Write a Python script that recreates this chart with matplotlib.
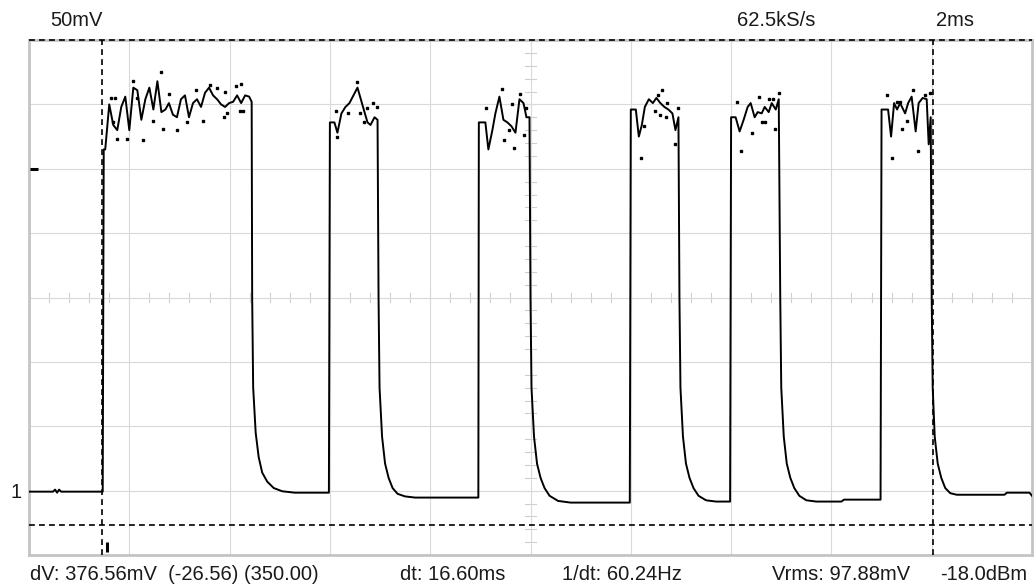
import matplotlib
matplotlib.use("Agg")
import matplotlib.pyplot as plt
import numpy as np
from matplotlib.transforms import blended_transform_factory

# scope settings: 2 ms/div, 50 mV/div, ground one division above the bottom
time_ms = [
    0.00, 0.48, 0.52, 0.56, 0.60, 0.64, 1.47,
    # pulse 1
    1.49, 1.52, 1.60, 1.68, 1.76, 1.84, 1.92, 2.00, 2.08, 2.16, 2.24, 2.32,
    2.40, 2.48, 2.56, 2.64, 2.72, 2.79, 2.87, 2.95, 3.03, 3.11, 3.19, 3.27,
    3.35, 3.43, 3.51, 3.59, 3.67, 3.75, 3.83, 3.91, 3.99, 4.07, 4.15, 4.23,
    4.31, 4.39, 4.44,
    4.45, 4.47, 4.52, 4.58, 4.65, 4.75, 4.88, 5.05, 5.30, 5.98,
    # pulse 2
    6.00, 6.03, 6.09, 6.15, 6.23, 6.31, 6.39, 6.47, 6.55, 6.63, 6.69, 6.75,
    6.81, 6.89, 6.95,
    6.97, 6.99, 7.04, 7.10, 7.17, 7.25, 7.35, 7.50, 7.70, 8.96,
    # pulse 3
    8.97, 9.04, 9.10, 9.16, 9.24, 9.30, 9.38, 9.46, 9.54, 9.62, 9.70, 9.78,
    9.86, 9.92, 9.98,
    10.00, 10.02, 10.07, 10.13, 10.20, 10.28, 10.38, 10.55, 10.80, 11.98,
    # pulse 4
    12.00, 12.10, 12.16, 12.22, 12.28, 12.36, 12.44, 12.51, 12.59, 12.67,
    12.75, 12.83, 12.89, 12.95,
    12.97, 12.99, 13.04, 13.10, 13.17, 13.25, 13.35, 13.50, 13.70, 13.98,
    # pulse 5
    14.00, 14.09, 14.17, 14.25, 14.33, 14.39, 14.47, 14.53, 14.61, 14.67,
    14.75, 14.81, 14.89, 14.95,
    14.98, 15.00, 15.05, 15.11, 15.18, 15.26, 15.36, 15.50, 15.70, 16.20, 16.25, 16.98,
    # pulse 6
    17.00, 17.13, 17.19, 17.25, 17.31, 17.37, 17.47, 17.53, 17.60, 17.68,
    17.74, 17.82, 17.90, 17.94, 17.98,
    18.00, 18.02, 18.06, 18.12, 18.19, 18.27, 18.37, 18.50, 19.45, 19.50, 19.95, 20.00,
]
volt_mv = [
    -0.8, -0.8, 0.8, -1.6, 0.8, -0.8, -0.8,
    265, 265, 300, 284, 280, 298, 306, 280, 313, 311, 288, 304,
    313, 296, 318, 294, 296, 301, 292, 290, 304, 307, 290, 301,
    304, 298, 309, 313, 307, 304, 300, 298, 301, 302, 307, 301,
    307, 306, 302,
    150, 80, 45, 26, 14, 7, 2, -0.5, -1.6, -1.6,
    286, 286, 286, 278, 293, 298, 301, 307, 313, 302, 294, 286,
    284, 290, 288,
    150, 80, 42, 21, 10, 2, -2.5, -4.5, -5.4, -5.4,
    286, 286, 286, 265, 280, 293, 306, 288, 286, 283, 278, 304,
    301, 290, 290,
    150, 80, 42, 21, 10, 2, -4, -8, -9.3, -9.3,
    296, 296, 275, 284, 298, 304, 301, 305, 301, 298,
    296, 293, 280, 290,
    150, 80, 42, 21, 10, 2, -4, -7.5, -8.5, -8.5,
    290, 290, 279, 288, 298, 301, 290, 294, 293, 298,
    294, 301, 296, 304,
    150, 80, 42, 21, 10, 2, -4, -7.5, -8.5, -8.5, -7, -7,
    296, 296, 275, 301, 296, 301, 293, 301, 306, 279,
    301, 305, 304, 269, 290,
    150, 80, 42, 21, 10, 2, -2, -3.2, -3.2, -1.6, -1.6, -4,
]

# peak-detect dots around the pulse tops
dot_t = [
    1.64, 1.72, 1.68, 1.76, 1.96, 2.08, 2.16, 2.28, 2.48, 2.63, 2.67, 2.79,
    2.95, 3.15, 3.33, 3.47, 3.61, 3.75, 3.89, 3.91, 3.95, 4.13, 4.23, 4.21, 4.27,
    6.13, 6.15, 6.37, 6.55, 6.61, 6.67, 6.85, 6.93, 6.73,
    9.12, 9.44, 9.48, 9.64, 9.68, 9.80, 9.92, 9.88, 9.58,
    12.20, 12.26, 12.48, 12.55, 12.63, 12.59, 12.73, 12.71, 12.89, 12.95,
    14.11, 14.19, 14.41, 14.55, 14.61, 14.67, 14.75, 14.83, 14.87, 14.95,
    17.11, 17.21, 17.31, 17.37, 17.41, 17.50, 17.62, 17.72, 17.86, 17.96,
]
dot_mv = [
    305, 305, 286, 273, 273, 318, 305, 272, 287, 325, 281, 308,
    280, 286, 311, 287, 315, 313, 290, 310, 293, 314, 316, 295, 295,
    295, 275, 293, 317, 293, 286, 301, 298, 297,
    297, 312, 272, 300, 266, 308, 297, 276, 280,
    258, 283, 295, 307, 311, 292, 301, 290, 269, 297,
    302, 264, 278, 306, 286, 286, 304, 304, 281, 309,
    307, 258, 302, 302, 281, 287, 311, 264, 307, 309,
]

cursor_t = [1.46, 18.02]
cursor_mv = [350.0, -26.56]
trigger_level_mv = 250
trigger_time_ms = 1.55

top_labels = ["50mV", "62.5kS/s", "2ms"]
bottom_labels = ["dV: 376.56mV  (-26.56) (350.00)", "dt: 16.60ms",
                 "1/dt: 60.24Hz", "Vrms: 97.88mV", "-18.0dBm"]

W, H = 1034, 587
fig = plt.figure(figsize=(W / 100, H / 100), dpi=100)
ax = fig.add_axes([29 / W, 32 / H, 1003 / W, 515 / H])
ax.set_xlim(0, 20)
ax.set_ylim(-50, 350)
ax.set_xticks(np.arange(0, 21, 2))
ax.set_yticks(np.arange(-50, 351, 50))
ax.tick_params(length=0, labelbottom=False, labelleft=False)
ax.grid(True, color="#d9d9d9", lw=0.8)
for sp in ax.spines.values():
    sp.set_color("#c4c4c4")
    sp.set_linewidth(2)

grid_c = "#cfcfcf"
# small ticks on the centre cross
for t in np.arange(0, 20.01, 0.4):
    ax.plot([t, t], [146.5, 153.5], color=grid_c, lw=0.8, zorder=1)
for v in np.arange(-50, 351, 10):
    ax.plot([9.9, 10.1], [v, v], color=grid_c, lw=0.8, zorder=1)

# cursors
for t in cursor_t:
    ax.axvline(t, color="black", lw=1.2, ls=(0, (3.5, 2.5)), zorder=3, clip_on=False)
for v in cursor_mv:
    ax.axhline(v, color="black", lw=1.2, ls=(0, (3.5, 2.5)), zorder=3, clip_on=False)

# trace
ax.plot(time_ms, volt_mv, color="black", lw=1.4, zorder=4)
ax.plot(dot_t, dot_mv, ls="none", marker="s", ms=1.5, color="black", zorder=4)

# trigger markers
blend = blended_transform_factory(ax.transAxes, ax.transData)
ax.plot([0.001, 0.009], [trigger_level_mv, trigger_level_mv], color="black",
        lw=2.2, transform=blend, solid_capstyle="butt", zorder=5)
ax.plot([trigger_time_ms, trigger_time_ms], [-48, -40], color="black", lw=2.2,
        solid_capstyle="butt", zorder=5)

font = dict(family="Liberation Sans", fontsize=14.5, color="#1a1a1a")
for label, x in zip(top_labels, [50, 737, 936]):
    fig.text(x / W, 1 - 26 / H, label, ha="left", va="baseline", **font)
for label, x in zip(bottom_labels, [30, 400, 562, 772, 940]):
    fig.text(x / W, 1 - 580 / H, label, ha="left", va="baseline", **font)
fig.text(10 / W, 1 - 498 / H, "1", ha="left", va="baseline", **font)

fig.savefig("out.png", dpi=100, facecolor="white")
